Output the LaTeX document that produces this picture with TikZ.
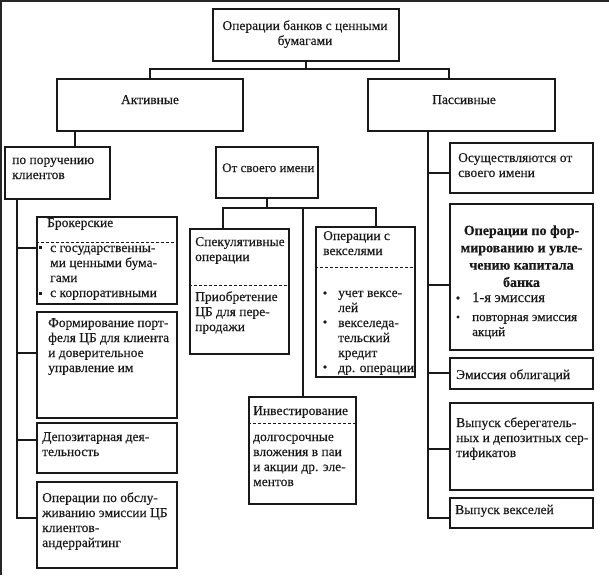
\documentclass[tikz,border=0pt]{standalone}
\usepackage{fontspec}
\setmainfont{Liberation Serif}[FakeBold=0.35]
\usetikzlibrary{fit}
\newcommand\fs{\fontsize{13.5}{15}\selectfont}
\newcommand\tl[1]{\begin{tabular}[t]{@{}l@{}}#1\end{tabular}}
\newcommand\tc[1]{\begin{tabular}[t]{@{}c@{}}#1\end{tabular}}
\begin{document}
\begin{tikzpicture}[x=1pt,y=-1pt,
  bx/.style={draw=black!90, line width=1.2pt, inner sep=0pt},
  ln/.style={draw=black!90, line width=1.2pt},
  dsh/.style={draw=black!90, line width=1pt, dash pattern=on 3pt off 2pt},
  tx/.style={inner sep=0pt, anchor=base west, font=\fs, text=black!90}]
\useasboundingbox (0,0) rectangle (609,575);
\fill[white] (0,0) rectangle (609,575);
\fill[black!85] (0,0) rectangle (609,2.2);
\fill[black!85] (0,0) rectangle (2.2,575);
% boxes
\node[bx, fit={(213,9)(399,61)}] (top) {};
\node[bx, fit={(57,79)(243,131)}] (act) {};
\node[bx, fit={(368,79)(555,131)}] (pas) {};
\node[bx, fit={(5,147)(110,199)}] (por) {};
\node[bx, fit={(37,217)(177,304)}] (brok) {};
\node[bx, fit={(37,312)(177,418)}] (form) {};
\node[bx, fit={(37,423)(177,473)}] (depo) {};
\node[bx, fit={(37,482)(177,568)}] (emis) {};
\node[bx, fit={(216,147)(318,198)}] (own) {};
\node[bx, fit={(190,229)(289,354)}] (spec) {};
\node[bx, fit={(316,227)(415,377)}] (vek) {};
\node[bx, fit={(249,397)(356,504)}] (inv) {};
\node[bx, fit={(450,143)(593,193)}] (osu) {};
\node[bx, fit={(450,204)(593,350)}] (cap) {};
\node[bx, fit={(450,358)(593,389)}] (obl) {};
\node[bx, fit={(450,403)(593,490)}] (sert) {};
\node[bx, fit={(450,498)(593,528)}] (vyp) {};
% dashed separators
\draw[dsh] (brok.west |- 0,242) -- (brok.east |- 0,242);
\draw[dsh] (spec.west |- 0,285) -- (spec.east |- 0,285);
\draw[dsh] (vek.west |- 0,267) -- (vek.east |- 0,267);
\draw[dsh] (inv.west |- 0,423) -- (inv.east |- 0,423);
% bullets
\fill[black!90] (38.5,245.5) rectangle ++(3,3);
\fill[black!90] (38.5,291.5) rectangle ++(3,3);
\fill[black!90] (325,293) circle (1.9);
\fill[black!90] (325,322) circle (1.9);
\fill[black!90] (325,367) circle (1.9);
\fill[black!90] (458,298) circle (1.9);
\fill[black!90] (458,317) circle (1.6);
% texts
\node[tx, anchor=base] (ttop) at (305,30) {\tc{Операции банков с ценными\\бумагами}};
\node[tx, anchor=base] (tact) at (150,104) {Активные};
\node[tx, anchor=base] (tpas) at (464,104) {Пассивные};
\node[tx] (tpor) at (12,164) {\tl{по поручению\\клиентов}};
\node[tx] (tbro) at (47,227) {Брокерские};
\node[tx] (tbro2) at (50,252) {\tl{с государственны-\\ми ценными бума-\\гами\\с корпоративными}};
\node[tx] (tfor) at (48,327) {\tl{Формирование порт-\\феля ЦБ для клиента\\и доверительное\\управление им}};
\node[tx] (tdep) at (42,441) {\tl{Депозитарная дея-\\тельность}};
\node[tx] (temi) at (42,502) {\tl{Операции по обслу-\\живанию эмиссии ЦБ\\клиентов-\\андеррайтинг}};
\node[tx] (town) at (222,172) {\fontsize{13}{15}\selectfont От своего имени};
\node[tx] (tspe) at (195,246) {\tl{Спекулятивные\\операции}};
\node[tx] (tspe2) at (195,301) {\tl{Приобретение\\ЦБ для пере-\\продажи}};
\node[tx] (tvek) at (323,240) {\tl{Операции с\\векселями}};
\node[tx] (tvek2) at (338,297) {\tl{учет вексе-\\лей\\векселеда-\\тельский\\кредит\\др. операции}};
\node[tx] (tinv) at (253,415) {Инвестирование};
\node[tx] (tinv2) at (253,441) {\tl{долгосрочные\\вложения в паи\\и акции др. эле-\\ментов}};
\node[tx] (tosu) at (458,162) {\tl{Осуществляются от\\своего имени}};
\node[tx, anchor=base] (tcap) at (521.5,235) {\bfseries\fontsize{14}{17.3}\selectfont\tc{Операции по фор-\\мированию и увле-\\чению капитала\\банка}};
\node[tx] (tcap2) at (472,302) {\fontsize{14.5}{15}\selectfont 1-я эмиссия};
\node[tx] (tcap3) at (472,321) {\fontsize{13}{15}\selectfont\tl{повторная эмиссия\\акций}};
\node[tx] (tobl) at (456,379) {Эмиссия облигаций};
\node[tx] (tser) at (456,427) {\tl{Выпуск сберегатель-\\ных и депозитных сер-\\тификатов}};
\node[tx] (tvyp) at (455,514) {Выпуск векселей};
% connectors top level
\coordinate (j0) at (303,69);
\coordinate (pd) at (449,79);
\draw[ln] (top.south) -- (top.south |- j0);
\draw[ln] (act.north) -- (act.north |- j0) -- (pd |- j0) -- (pd);
% active spine
\coordinate (a1) at (75,131);
\draw[ln] (a1) -- (a1 |- por.north);
\coordinate (p1) at (17,199);
\draw[ln] (p1) |- (emis.west |- 0,518);
\draw[ln] (p1 |- 0,248) -- (brok.west |- 0,248);
\draw[ln] (p1 |- 0,353) -- (form.west |- 0,353);
\draw[ln] (p1 |- 0,440) -- (depo.west |- 0,440);
% own name
\coordinate (s1) at (223,229);
\coordinate (v1) at (376,227);
\coordinate (i1) at (303,397);
\draw[ln] (own.south) -- (own.south |- 0,208);
\draw[ln] (s1) |- (v1 |- 0,208) -- (v1);
\draw[ln] (i1) -- (i1 |- 0,208);
% passive spine
\coordinate (q1) at (428,131);
\draw[ln] (q1) |- (vyp.west |- 0,518);
\draw[ln] (q1 |- 0,173) -- (osu.west |- 0,173);
\draw[ln] (q1 |- 0,285) -- (cap.west |- 0,285);
\draw[ln] (q1 |- 0,373) -- (obl.west |- 0,373);
\draw[ln] (q1 |- 0,449) -- (sert.west |- 0,449);
\end{tikzpicture}
\end{document}
